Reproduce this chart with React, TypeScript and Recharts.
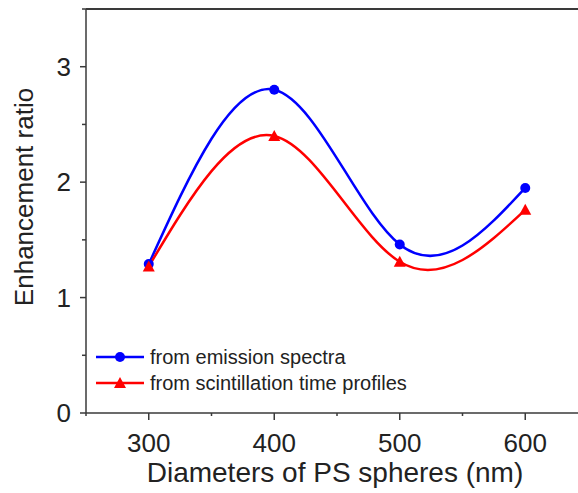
import React from 'react';
import { LineChart, Line, XAxis, YAxis, Legend } from 'recharts';

const diameters = [300, 400, 500, 600];
const emissionRatio = [1.29, 2.8, 1.46, 1.95];
const scintillationRatio = [1.27, 2.4, 1.31, 1.76];
const xTicks = [250, 300, 350, 400, 450, 500, 550, 600, 650];
const topTicks = [300, 400, 500, 600];
const yTicks = [0, 0.5, 1, 1.5, 2, 2.5, 3, 3.5];
const seriesNames = ['from emission spectra', 'from scintillation time profiles'];

const data = diameters.map((d, i) => ({
  d,
  emission: emissionRatio[i],
  scint: scintillationRatio[i],
}));

const FONT = '"Liberation Sans", Arial, sans-serif';
const AXIS = '#3a3a3a';
const TEXT = '#222';

const BottomTick = (props: any) => {
  const { x, y, payload } = props;
  const major = payload.value % 100 === 0 && payload.value >= 300 && payload.value <= 600;
  return (
    <g>
      <line x1={x} x2={x} y1={y} y2={y + (major ? 7 : 3)} stroke={AXIS} strokeWidth={1.5} />
      {major && (
        <text x={x} y={y + 39} textAnchor="middle" fontSize={26} fontFamily={FONT} fill={TEXT}>
          {payload.value}
        </text>
      )}
    </g>
  );
};

const LeftTick = (props: any) => {
  const { x, y, payload } = props;
  const major = Number.isInteger(payload.value);
  return (
    <g>
      <line x1={x} x2={x - (major ? 6 : 4)} y1={y} y2={y} stroke={AXIS} strokeWidth={1.5} />
      {major && (
        <text x={x - 15} y={y + 9} textAnchor="end" fontSize={26} fontFamily={FONT} fill={TEXT}>
          {payload.value}
        </text>
      )}
    </g>
  );
};

const Triangle = (props: any) => {
  const { cx, cy, fill } = props;
  if (cx == null || cy == null) return null;
  return <polygon points={`${cx},${cy - 6} ${cx - 6},${cy + 5} ${cx + 6},${cy + 5}`} fill={fill} />;
};

const LegendContent = () => (
  <div style={{ fontFamily: FONT, fontSize: 20, color: TEXT }}>
    {seriesNames.map((name, i) => (
      <div key={name} style={{ display: 'flex', alignItems: 'center', height: 26 }}>
        <svg width={48} height={20} style={{ display: 'block', flexShrink: 0 }}>
          <line x1={0} x2={48} y1={10} y2={10} stroke={i === 0 ? '#0000ff' : '#ff0000'} strokeWidth={2.5} />
          {i === 0 ? (
            <circle cx={24} cy={10} r={5} fill="#0000ff" />
          ) : (
            <polygon points="24,4 18,15 30,15" fill="#ff0000" />
          )}
        </svg>
        <span style={{ marginLeft: 6, whiteSpace: 'nowrap', flexShrink: 0 }}>{name}</span>
      </div>
    ))}
  </div>
);

export default function App() {
  return (
    <div style={{ position: 'absolute', left: 0, top: 0, width: 578, height: 493, overflow: 'hidden', background: '#fff' }}>
      <LineChart width={600} height={493} data={data} margin={{ top: 9, right: 12, left: 0, bottom: 0 }}>
        <XAxis
          dataKey="d"
          type="number"
          domain={[250, 650]}
          ticks={xTicks}
          interval={0}
          tickSize={0}
          tickMargin={0}
          tickLine={false}
          tick={<BottomTick />}
          height={80}
          axisLine={{ stroke: AXIS, strokeWidth: 1.5 }}
          label={{
            content: (p: any) => {
              const vb = p.viewBox;
              return (
                <text x={vb.x + vb.width / 2 - 2} y={vb.y + 69} textAnchor="middle" fontSize={28} fontFamily={FONT} fill={TEXT}>
                  Diameters of PS spheres (nm)
                </text>
              );
            },
          }}
        />
        <XAxis
          xAxisId="top"
          orientation="top"
          dataKey="d"
          type="number"
          domain={[250, 650]}
          ticks={topTicks}
          interval={0}
          mirror
          tickSize={7}
          tick={false}
          tickLine={{ stroke: AXIS, strokeWidth: 1.5 }}
          height={0}
          axisLine={{ stroke: AXIS, strokeWidth: 1.5 }}
        />
        <YAxis
          type="number"
          domain={[0, 3.5]}
          ticks={yTicks}
          interval={0}
          tickSize={0}
          tickMargin={0}
          tickLine={false}
          tick={<LeftTick />}
          width={86}
          axisLine={{ stroke: AXIS, strokeWidth: 1.5 }}
          label={{
            content: () => (
              <text transform="translate(33,197) rotate(-90)" x={0} y={0} textAnchor="middle" fontSize={26} fontFamily={FONT} fill={TEXT}>
                Enhancement ratio
              </text>
            ),
          }}
        />
        <Legend
          layout="vertical"
          align="center"
          verticalAlign="middle"
          content={<LegendContent />}
          wrapperStyle={{ left: 96, top: 344, width: 420 }}
        />
        <Line
          type="natural"
          dataKey="emission"
          name={seriesNames[0]}
          stroke="#0000ff"
          strokeWidth={2.5}
          dot={{ r: 5, fill: '#0000ff', stroke: '#0000ff', strokeWidth: 0 }}
          isAnimationActive={false}
        />
        <Line
          type="natural"
          xAxisId="top"
          dataKey="scint"
          name={seriesNames[1]}
          stroke="#ff0000"
          strokeWidth={2.5}
          dot={<Triangle fill="#ff0000" />}
          isAnimationActive={false}
        />
      </LineChart>
      <div
        style={{
          position: 'absolute',
          left: 86,
          width: 492,
          top: 8,
          height: 2,
          background: AXIS,
          pointerEvents: 'none',
          zIndex: 10,
        }}
      />
    </div>
  );
}
